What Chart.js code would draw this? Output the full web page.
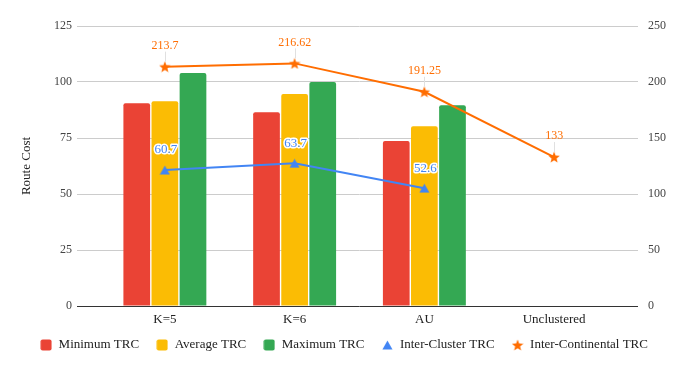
<!DOCTYPE html>
<html><head><meta charset="utf-8">
<script src="https://cdn.jsdelivr.net/npm/chart.js@4/dist/chart.umd.min.js"></script>
<style>html,body{margin:0;padding:0;background:#fff}#wrap{width:688px;height:371px;position:relative}</style>
</head><body><div id="wrap"><canvas id="c"></canvas></div>
<script>
const categories = ['K=5', 'K=6', 'AU', 'Unclustered'];
const minimumTRC = [90.5, 86.5, 73.7, null];
const averageTRC = [91.4, 94.6, 80.3, null];
const maximumTRC = [104, 100, 89.6, null];
const interClusterTRC = [60.7, 63.7, 52.6, null];
const interContinentalTRC = [213.7, 216.62, 191.25, 133];
const leftTicks = [0, 25, 50, 75, 100, 125];
const rightTicks = [0, 50, 100, 150, 200, 250];
const seriesNames = ['Minimum TRC', 'Average TRC', 'Maximum TRC', 'Inter-Cluster TRC', 'Inter-Continental TRC'];

const FONT = "'Liberation Serif', serif";
const RED = '#EA4335', YEL = '#FBBC04', GRN = '#34A853', BLUE = '#4285F4', ORG = '#FF6D01';

function boxImg(color) {
  const c = document.createElement('canvas'); c.width = 12; c.height = 12;
  const g = c.getContext('2d'); g.fillStyle = color;
  g.beginPath(); g.roundRect(0.5, 0.5, 11, 11, 2); g.fill();
  return c;
}
function triImg(color) {
  const c = document.createElement('canvas'); c.width = 11; c.height = 10;
  const g = c.getContext('2d'); g.fillStyle = color;
  g.beginPath(); g.moveTo(5.5, 0.5); g.lineTo(10.5, 9.5); g.lineTo(0.5, 9.5); g.closePath(); g.fill();
  return c;
}
function starImg(color) {
  const s = 12; const c = document.createElement('canvas'); c.width = s; c.height = s;
  const g = c.getContext('2d'); g.fillStyle = color; g.beginPath();
  const cx = s / 2, cy = s / 2 + 0.6, R = 6, r = 2.6;
  for (let k = 0; k < 10; k++) {
    const a = -Math.PI / 2 + k * Math.PI / 5; const rr = k % 2 ? r : R;
    const px = cx + rr * Math.cos(a), py = cy + rr * Math.sin(a);
    k ? g.lineTo(px, py) : g.moveTo(px, py);
  }
  g.closePath(); g.fill(); return c;
}

const gridCol = c => (c.tick && c.tick.value === 0) ? '#333333' : '#cccccc';

const labelPlugin = {
  id: 'pointLabels',
  afterLayout(chart) {
    if (chart.legend) { chart.legend.top -= 9.5; chart.legend.bottom -= 9.5; }
  },
  afterDatasetsDraw(chart) {
    const ctx = chart.ctx;
    chart.data.datasets.forEach((ds, i) => {
      if (!ds.labelStyle) return;
      const meta = chart.getDatasetMeta(i);
      meta.data.forEach((pt, j) => {
        const v = ds.data[j]; if (v == null) return;
        const x = pt.x, y = pt.y;
        ctx.save();
        ctx.font = '12px ' + FONT;
        ctx.textAlign = 'center'; ctx.textBaseline = 'middle';
        if (ds.labelStyle === 'stem') {
          ctx.strokeStyle = '#e0e0e0'; ctx.lineWidth = 1;
          ctx.beginPath(); ctx.moveTo(Math.round(x) + 0.5, y - 15); ctx.lineTo(Math.round(x) + 0.5, y - 5); ctx.stroke();
          ctx.fillStyle = ds.borderColor;
          ctx.fillText(String(v), x, y - 21);
        } else {
          ctx.font = '13px ' + FONT;
          ctx.lineJoin = 'round';
          ctx.strokeStyle = '#ffffff'; ctx.lineWidth = 3;
          ctx.strokeText(String(v), x + 1, y - 20);
          ctx.fillStyle = ds.borderColor;
          ctx.fillText(String(v), x + 1, y - 20);
        }
        ctx.restore();
      });
    });
  }
};

new Chart(document.getElementById('c'), {
  data: {
    labels: categories,
    datasets: [
      { type: 'bar', label: seriesNames[0], data: minimumTRC, backgroundColor: RED, yAxisID: 'y', order: 1, borderRadius: 2, pointStyle: boxImg(RED) },
      { type: 'bar', label: seriesNames[1], data: averageTRC, backgroundColor: YEL, yAxisID: 'y', order: 1, borderRadius: 2, pointStyle: boxImg(YEL) },
      { type: 'bar', label: seriesNames[2], data: maximumTRC, backgroundColor: GRN, yAxisID: 'y', order: 1, borderRadius: 2, pointStyle: boxImg(GRN) },
      { type: 'line', label: seriesNames[3], data: interClusterTRC, borderColor: BLUE, backgroundColor: BLUE, borderWidth: 2, yAxisID: 'y', order: 0, pointStyle: triImg(BLUE), pointRadius: 5, tension: 0, labelStyle: 'halo' },
      { type: 'line', label: seriesNames[4], data: interContinentalTRC, borderColor: ORG, backgroundColor: ORG, borderWidth: 2, yAxisID: 'y2', order: 0, pointStyle: starImg(ORG), pointRadius: 5, tension: 0, labelStyle: 'stem' }
    ]
  },
  options: {
    responsive: true, maintainAspectRatio: false, animation: false,
    datasets: { bar: { categoryPercentage: 0.65, barPercentage: 0.95 } },
    layout: { padding: { top: 26, left: 0, right: 0, bottom: 0 } },
    plugins: {
      tooltip: { enabled: false },
      legend: {
        position: 'bottom',
        labels: {
          usePointStyle: true, boxWidth: 12, boxHeight: 12, padding: 17,
          color: '#222', font: { family: FONT, size: 13 },
          sort: (a, b) => a.datasetIndex - b.datasetIndex
        }
      }
    },
    scales: {
      x: {
        offset: true,
        grid: { display: false }, border: { display: false },
        ticks: { color: '#222', font: { family: FONT, size: 13 }, padding: -2, maxRotation: 0, autoSkip: false },
        afterFit(s) { s.height = 25; }
      },
      y: {
        position: 'left', min: 0, max: 125,
        afterBuildTicks(s) { s.ticks = leftTicks.map(v => ({ value: v })); },
        grid: { color: gridCol, tickColor: gridCol, tickLength: 23, lineWidth: 1 },
        border: { display: false },
        ticks: { padding: 5, color: '#444', font: { family: FONT, size: 12 } },
        title: { display: true, text: 'Route Cost', color: '#222', font: { family: FONT, size: 13 }, padding: { top: 19, bottom: 0 } },
        afterFit(s) { s.width = 100; }
      },
      y2: {
        position: 'right', min: 0, max: 250,
        afterBuildTicks(s) { s.ticks = rightTicks.map(v => ({ value: v })); },
        grid: { drawOnChartArea: false, color: gridCol, tickColor: gridCol, tickLength: 19, lineWidth: 1 },
        border: { display: false },
        ticks: { padding: 10, color: '#444', font: { family: FONT, size: 12 } },
        afterFit(s) { s.width = 69; }
      }
    }
  },
  plugins: [labelPlugin]
});
</script>
</body></html>
